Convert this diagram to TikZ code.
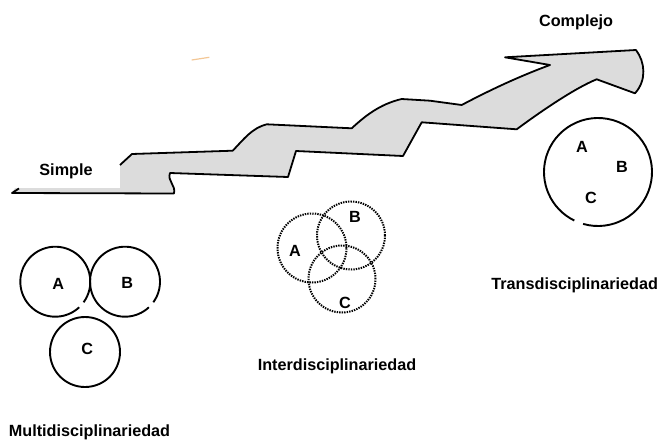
\documentclass[tikz,border=0pt]{standalone}
\usepackage{fontspec}
\setmainfont{Liberation Sans}
\tikzset{
  lbl/.style={font=\fontsize{16.2}{19}\selectfont\bfseries, inner sep=0pt},
  ring/.style={line width=1.9pt},
  dotring/.style={line width=2pt, dash pattern=on 1.4pt off 1.1pt},
}
\definecolor{stairgray}{HTML}{DCDCDC}
\definecolor{smudge}{HTML}{F3C796}
\begin{document}
\begin{tikzpicture}[x=1pt, y=-1pt, line join=round]
  \useasboundingbox (0,0) rectangle (661,439);
  % stair arrow
  \fill [stairgray] (15,188) -- (12,193) -- (174,193.5)
    .. controls (176,185) and (167,181) .. (170,173)
    -- (288,177) -- (296,151) -- (403,156) -- (421.7,122.3) -- (516.7,129.3)
    .. controls (540,112) and (575,88) .. (596.7,79.3)
    -- (635,93.3) .. controls (647,80) and (645,62) .. (636,50)
    -- (505,57.3) -- (550,65)
    .. controls (520,76) and (490,90) .. (461.7,105)
    -- (430,100.7) -- (401.7,99)
    .. controls (380,104) and (365,116) .. (351.7,128.3)
    -- (266.7,124.3) .. controls (252,128) and (244,139) .. (232.7,150.7)
    -- (132,154) -- (120,165) -- (120,188) -- cycle;
  \draw [line width=1.8pt] (19,188.5) -- (12,193) -- (174,193.5)
    .. controls (176,185) and (167,181) .. (170,173)
    -- (288,177) -- (296,151) -- (403,156) -- (421.7,122.3) -- (516.7,129.3)
    .. controls (540,112) and (575,88) .. (596.7,79.3)
    -- (635,93.3) .. controls (647,80) and (645,62) .. (636,50)
    -- (505,57.3) -- (550,65)
    .. controls (520,76) and (490,90) .. (461.7,105)
    -- (430,100.7) -- (401.7,99)
    .. controls (380,104) and (365,116) .. (351.7,128.3)
    -- (266.7,124.3) .. controls (252,128) and (244,139) .. (232.7,150.7)
    -- (132,154) -- (120,165);
  \draw [smudge, line width=1.2pt] (191.7,60) -- (209.3,57.3);
  \node [lbl, anchor=base] (simple) at (66,175) {Simple};
  \node [lbl, anchor=base] (complejo) at (576,26) {Complejo};

  % multidisciplinariedad
  \coordinate (mca) at (55.3,281.7);
  \coordinate (mcb) at (125,281.7);
  \coordinate (mcc) at (85,352);
  \draw [ring] ([shift={(-36:35pt)}]mca) arc[start angle=-36, end angle=313, radius=35pt];
  \draw [ring] ([shift={(-36:35pt)}]mcb) arc[start angle=-36, end angle=313, radius=35pt];
  \draw [ring] (mcc) circle[radius=35pt];
  \node [lbl] (ma) at (58.3,284.3) {A};
  \node [lbl] (mb) at (127.3,283.3) {B};
  \node [lbl] (mc) at (87.3,349) {C};
  \node [lbl, anchor=base] (multi) at (89.5,436.7) {Multidisciplinariedad};

  % interdisciplinariedad
  \draw [dotring] (312,248) circle[radius=34.5pt];
  \draw [dotring] (351,235.5) circle[radius=34pt];
  \draw [dotring] (342,279) circle[radius=33.5pt];
  \node [lbl] (ia) at (295,251) {A};
  \node [lbl] (ib) at (355,217) {B};
  \node [lbl] (ic) at (345,303) {C};
  \node [lbl, anchor=base] (inter) at (337,370) {Interdisciplinariedad};

  % transdisciplinariedad
  \coordinate (tcc) at (598,172);
  \draw [ring] ([shift={(-106:54pt)}]tcc) arc[start angle=-106, end angle=244, radius=54pt];
  \node [lbl] (ta) at (582,147) {A};
  \node [lbl] (tb) at (622,167) {B};
  \node [lbl] (tc) at (591,198) {C};
  \node [lbl, anchor=base] (trans) at (574.7,289) {Transdisciplinariedad};
\end{tikzpicture}
\end{document}
